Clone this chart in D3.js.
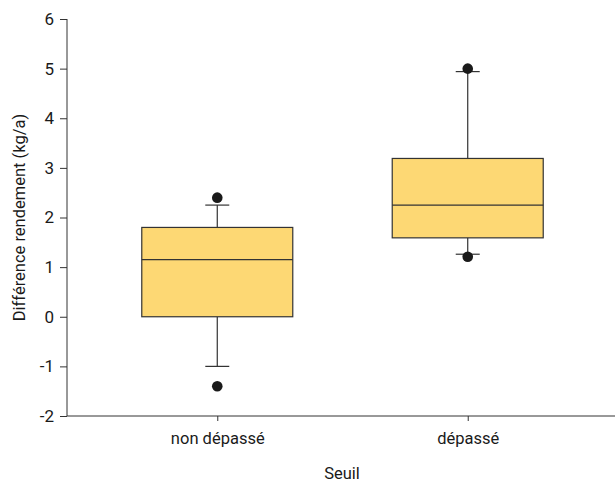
<!DOCTYPE html>
<html><head><meta charset="utf-8">
<script src="https://cdn.jsdelivr.net/npm/d3@7"></script>
<style>body{margin:0;background:#fff}text{font-family:Roboto,"Open Sans",sans-serif;fill:#1a1a1a}</style>
</head><body><svg id="c" width="615" height="483"></svg>
<script>
const categories = ["non dépassé", "dépassé"];
const q1 = [0.0, 1.59];
const median = [1.15, 2.25];
const q3 = [1.80, 3.19];
const whiskerLow = [-1.0, 1.26];
const whiskerHigh = [2.25, 4.94];
const outliers = [[2.40, -1.40], [5.00, 1.21]];
const yTicks = [-2, -1, 0, 1, 2, 3, 4, 5, 6];

const svg = d3.select("#c");
const y = d3.scaleLinear().domain([-2, 6]).range([416, 19]);
const x = d3.scalePoint().domain(categories).range([67, 618]).padding(0.6);
const boxW = 151, capW = 24;

const yAxis = svg.append("g").attr("transform", "translate(67,0)")
  .call(d3.axisLeft(y).tickValues(yTicks).tickSize(7).tickPadding(6).tickFormat(d => String(d)));
yAxis.select(".domain").attr("d", "M0," + y(6) + "V" + y(-2));
yAxis.selectAll("text").style("font-size", "17px").attr("fill", "#1a1a1a");
yAxis.selectAll("line,path").attr("stroke", "#333");

const xAxis = svg.append("g").attr("transform", "translate(0,416)")
  .call(d3.axisBottom(x).tickSize(5).tickPadding(11));
xAxis.select(".domain").attr("d", "M67,0H615");
xAxis.selectAll("text").style("font-size", "16.5px").attr("fill", "#1a1a1a");
xAxis.selectAll("line,path").attr("stroke", "#333");

svg.append("text").attr("transform", "translate(25," + ((y(6)+y(-2))/2) + ") rotate(-90)")
  .attr("text-anchor", "middle").style("font-size", "16.5px").text("Différence rendement (kg/a)");
svg.append("text").attr("x", 342).attr("y", 479).attr("text-anchor", "middle")
  .style("font-size", "16.5px").text("Seuil");

const g = svg.append("g");
categories.forEach((c, i) => {
  const cx = x(c);
  g.append("line").attr("x1", cx).attr("x2", cx).attr("y1", y(whiskerHigh[i])).attr("y2", y(q3[i])).attr("stroke", "#333").attr("stroke-width", 1.2);
  g.append("line").attr("x1", cx).attr("x2", cx).attr("y1", y(q1[i])).attr("y2", y(whiskerLow[i])).attr("stroke", "#333").attr("stroke-width", 1.2);
  [whiskerHigh[i], whiskerLow[i]].forEach(v => {
    g.append("line").attr("x1", cx - capW/2).attr("x2", cx + capW/2).attr("y1", y(v)).attr("y2", y(v)).attr("stroke", "#333").attr("stroke-width", 1.2);
  });
  g.append("rect").attr("x", cx - boxW/2).attr("width", boxW).attr("y", y(q3[i])).attr("height", y(q1[i]) - y(q3[i]))
    .attr("fill", "#fdd874").attr("stroke", "#333").attr("stroke-width", 1.2);
  g.append("line").attr("x1", cx - boxW/2).attr("x2", cx + boxW/2).attr("y1", y(median[i])).attr("y2", y(median[i])).attr("stroke", "#333").attr("stroke-width", 1.2);
  outliers[i].forEach(v => {
    g.append("circle").attr("cx", cx).attr("cy", y(v)).attr("r", 5.3).attr("fill", "#1a1a1a");
  });
});
</script></body></html>
